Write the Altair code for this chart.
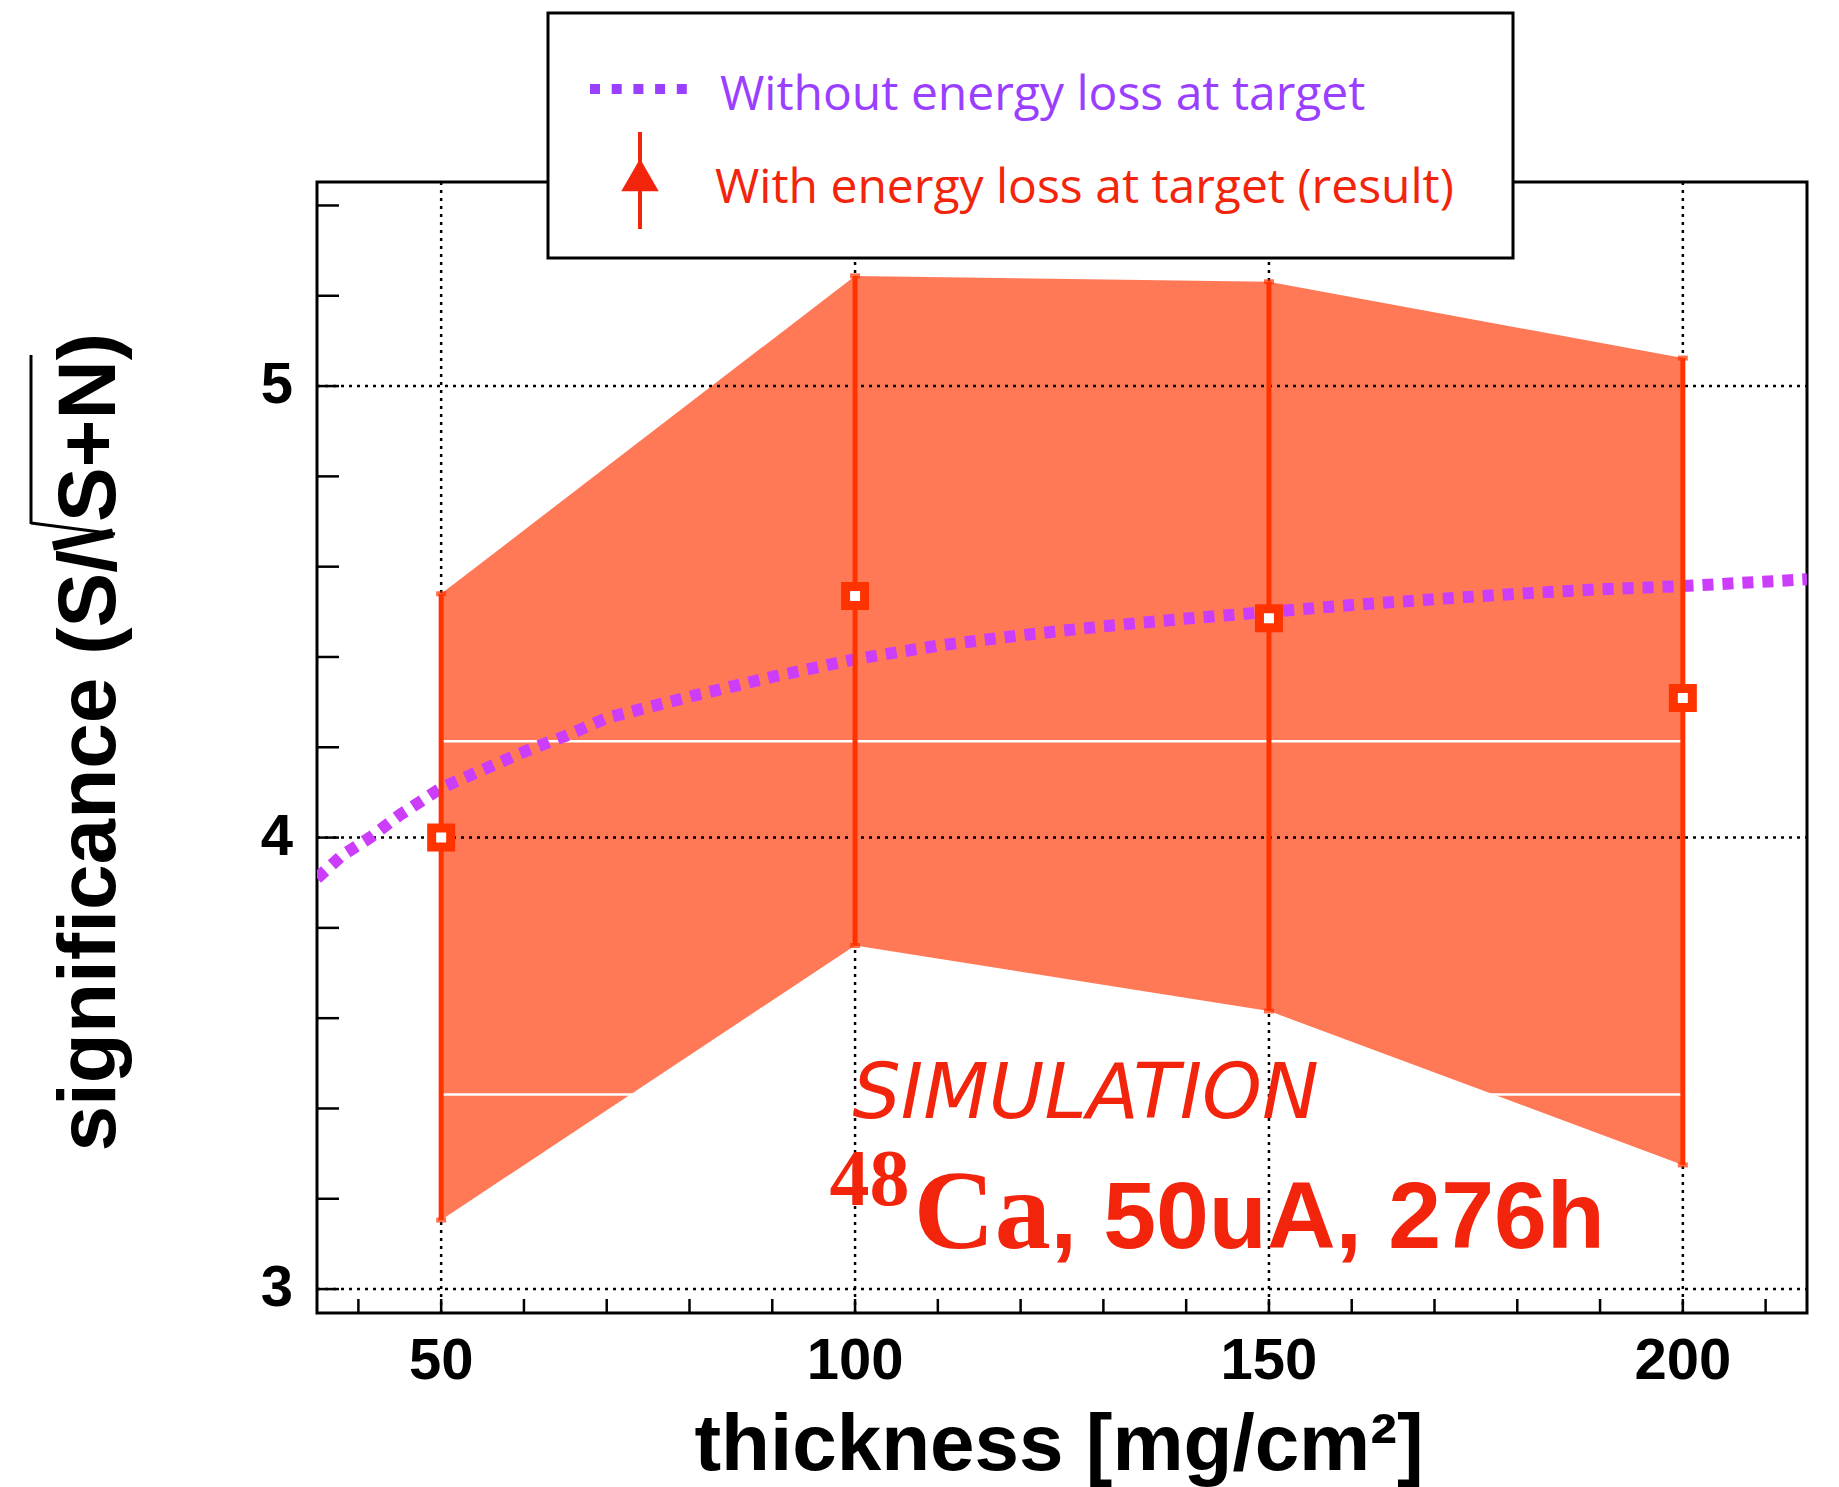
import altair as alt
import pandas as pd

# Significance vs. target thickness (with energy loss at target)
thickness = [50, 100, 150, 200]
significance = [4.00, 4.535, 4.486, 4.309]
sig_high = [4.540, 5.244, 5.231, 5.062]
sig_low = [3.153, 3.761, 3.616, 3.275]

# Expected significance without energy loss at target
curve_x = [35, 38, 41.4, 45, 50, 55, 60, 65, 70, 80, 90, 100, 110, 120,
           130, 140, 150, 160, 170, 180, 190, 200, 215]
curve_y = [3.91, 3.96, 4.00, 4.05, 4.11, 4.15, 4.19, 4.225, 4.265, 4.312,
           4.356, 4.395, 4.425, 4.448, 4.468, 4.485, 4.50, 4.515, 4.528,
           4.54, 4.55, 4.557, 4.572]

# Axis ticks, labels and grid positions
x_labels = [50, 100, 150, 200]
y_labels = [3, 4, 5]
x_minor = list(range(40, 211, 10))
y_minor = [3.0, 3.2, 3.4, 3.6, 3.8, 4.0, 4.2, 4.4, 4.6, 4.8, 5.0, 5.2, 5.4]
band_seams = [4.2135, 3.431]

W, H = 1490, 1131
RED = "#FF3300"
TXT_RED = "#F2240C"
MAGENTA = "#CC3DFA"
VIOLET = "#9A3FFF"
SANS = "Liberation Sans"

xs = alt.Scale(domain=[35, 215], nice=False, zero=False)
ys = alt.Scale(domain=[2.947, 5.452], nice=False, zero=False)

res = pd.DataFrame({"t": thickness, "s": significance, "hi": sig_high, "lo": sig_low})
curve = pd.DataFrame({"t": curve_x, "s": curve_y})
one = pd.DataFrame({"k": [0]})


def X(field):
    return alt.X(field, type="quantitative", scale=xs, axis=None)


def Y(field):
    return alt.Y(field, type="quantitative", scale=ys, axis=None)


def stroke(x1, y1, x2, y2, width, color="black"):
    return alt.Chart(one).mark_rule(color=color, strokeWidth=width, strokeCap="butt").encode(
        x=alt.value(x1), y=alt.value(y1), x2=alt.value(x2), y2=alt.value(y2))


# shaded uncertainty band between the error-bar ends
band = alt.Chart(res).mark_area(color=RED, opacity=0.66, interpolate="linear").encode(
    x=X("t"), y=Y("hi"), y2="lo")

seams = alt.Chart(pd.DataFrame({"y": band_seams, "a": [50, 50], "b": [200, 200]})).mark_rule(
    color="white", strokeWidth=2.5).encode(x=X("a"), x2="b", y=Y("y"))

grid_x = alt.Chart(pd.DataFrame({"t": x_labels})).mark_rule(
    color="black", strokeWidth=2.5, strokeDash=[3, 5]).encode(
    x=X("t"), y=alt.value(0), y2=alt.value(H))
grid_y = alt.Chart(pd.DataFrame({"s": y_labels})).mark_rule(
    color="black", strokeWidth=2.5, strokeDash=[3, 5]).encode(
    y=Y("s"), x=alt.value(0), x2=alt.value(W))

ticks_x = alt.Chart(pd.DataFrame({"t": x_minor})).mark_rule(color="black", strokeWidth=2.5).encode(
    x=X("t"), y=alt.value(H), y2=alt.value(H - 14))
ticks_y = alt.Chart(pd.DataFrame({"s": y_minor})).mark_rule(color="black", strokeWidth=2.5).encode(
    y=Y("s"), x=alt.value(0), x2=alt.value(22))

# axis labels and titles
lab_x = alt.Chart(pd.DataFrame({"t": x_labels})).mark_text(
    font=SANS, fontWeight="bold", fontSize=58, color="black", baseline="top", align="center").encode(
    x=X("t"), y=alt.value(H + 20), text=alt.Text("t:Q", format="d"))
lab_y = alt.Chart(pd.DataFrame({"s": y_labels})).mark_text(
    font=SANS, fontWeight="bold", fontSize=58, color="black", baseline="middle", align="right").encode(
    y=Y("s"), x=alt.value(-24), text=alt.Text("s:Q", format="d"))
title_x = alt.Chart(one).mark_text(
    text="thickness [mg/cm²]", font=SANS, fontWeight="bold", fontSize=80, color="black",
    align="center", baseline="alphabetic").encode(x=alt.value(742), y=alt.value(H + 157))

# y title: "significance (S/" + square-root sign + "S+N)"
title_y1 = alt.Chart(one).mark_text(
    text="significance (S/", font=SANS, fontWeight="bold", fontSize=82, color="black",
    align="right", baseline="alphabetic", angle=270).encode(x=alt.value(-202), y=alt.value(368))
title_y2 = alt.Chart(one).mark_text(
    text="S+N)", font=SANS, fontWeight="bold", fontSize=82, color="black",
    align="right", baseline="alphabetic", angle=270).encode(x=alt.value(-202), y=alt.value(151))
root_short = stroke(-204, 351, -264, 364, 9)
root_long = stroke(-286, 341, -202, 352, 3)
root_bar = stroke(-286, 342, -286, 173, 3)

line = alt.Chart(curve).mark_line(color=MAGENTA, strokeWidth=12, strokeDash=[11, 9],
                                  strokeCap="butt", clip=True).encode(x=X("t"), y=Y("s"))

bars = alt.Chart(res).mark_rule(color=RED, strokeWidth=5).encode(x=X("t"), y=Y("lo"), y2="hi")
caps_hi = alt.Chart(res).mark_tick(color=RED, orient="horizontal", size=10, thickness=5).encode(
    x=X("t"), y=Y("hi"))
caps_lo = alt.Chart(res).mark_tick(color=RED, orient="horizontal", size=10, thickness=5).encode(
    x=X("t"), y=Y("lo"))
points = alt.Chart(res).mark_point(shape="square", size=361, filled=False, fill="white",
                                   fillOpacity=1, stroke=RED, strokeWidth=9, opacity=1).encode(
    x=X("t"), y=Y("s"))

# in-plot annotation
notes = pd.DataFrame({"t": [99.7, 96.9, 107.1, 123.6], "s": [3.378, 3.186, 3.091, 3.091]})
sim = alt.Chart(notes.iloc[[0]]).mark_text(
    text="SIMULATION", font="DejaVu Sans", fontStyle="oblique", fontSize=76,
    color=TXT_RED, align="left", baseline="alphabetic").encode(x=X("t"), y=Y("s"))
iso_a = alt.Chart(notes.iloc[[1]]).mark_text(
    text="48", font="Liberation Serif", fontWeight="bold", fontSize=80,
    color=TXT_RED, align="left", baseline="alphabetic").encode(x=X("t"), y=Y("s"))
iso_b = alt.Chart(notes.iloc[[2]]).mark_text(
    text="Ca", font="Liberation Serif", fontWeight="bold", fontSize=112,
    color=TXT_RED, align="left", baseline="alphabetic").encode(x=X("t"), y=Y("s"))
run_info = alt.Chart(notes.iloc[[3]]).mark_text(
    text=", 50uA, 276h", font=SANS, fontWeight="bold", fontSize=95,
    color=TXT_RED, align="left", baseline="alphabetic").encode(x=X("t"), y=Y("s"))

# legend box
leg_box = alt.Chart(one).mark_rect(fill="white", stroke="black", strokeWidth=3).encode(
    x=alt.value(231), x2=alt.value(1196), y=alt.value(-169), y2=alt.value(76))
leg_line = alt.Chart(one).mark_rule(color=VIOLET, strokeWidth=10, strokeDash=[10, 11.7],
                                    strokeCap="butt").encode(
    x=alt.value(273), x2=alt.value(370), y=alt.value(-93))
leg_text1 = alt.Chart(one).mark_text(text="Without energy loss at target", font="Open Sans",
                                     fontSize=48, color=VIOLET, align="left",
                                     baseline="alphabetic").encode(
    x=alt.value(403), y=alt.value(-72))
leg_bar = alt.Chart(one).mark_rule(color=TXT_RED, strokeWidth=4).encode(
    x=alt.value(323), y=alt.value(-50), y2=alt.value(47))
leg_tri = alt.Chart(one).mark_point(shape="triangle-up", filled=True, size=1400,
                                    color=TXT_RED, opacity=1).encode(
    x=alt.value(323), y=alt.value(-7))
leg_text2 = alt.Chart(one).mark_text(text="With energy loss at target (result)", font="Open Sans",
                                     fontSize=48, color=TXT_RED, align="left",
                                     baseline="alphabetic").encode(
    x=alt.value(398), y=alt.value(21))

chart = alt.layer(
    band, seams, grid_x, grid_y, ticks_x, ticks_y, line, bars, caps_hi, caps_lo, points,
    sim, iso_a, iso_b, run_info,
    lab_x, lab_y, title_x, title_y1, title_y2, root_short, root_long, root_bar,
    leg_box, leg_line, leg_text1, leg_bar, leg_tri, leg_text2,
).properties(
    width=W, height=H,
    autosize=alt.AutoSizeParams(type="none"),
    padding={"left": 317, "top": 182, "right": 32, "bottom": 174},
    background="white",
).configure_view(stroke="black", strokeWidth=3)

chart.save("out.html", embed_options={"renderer": "svg", "actions": False})
